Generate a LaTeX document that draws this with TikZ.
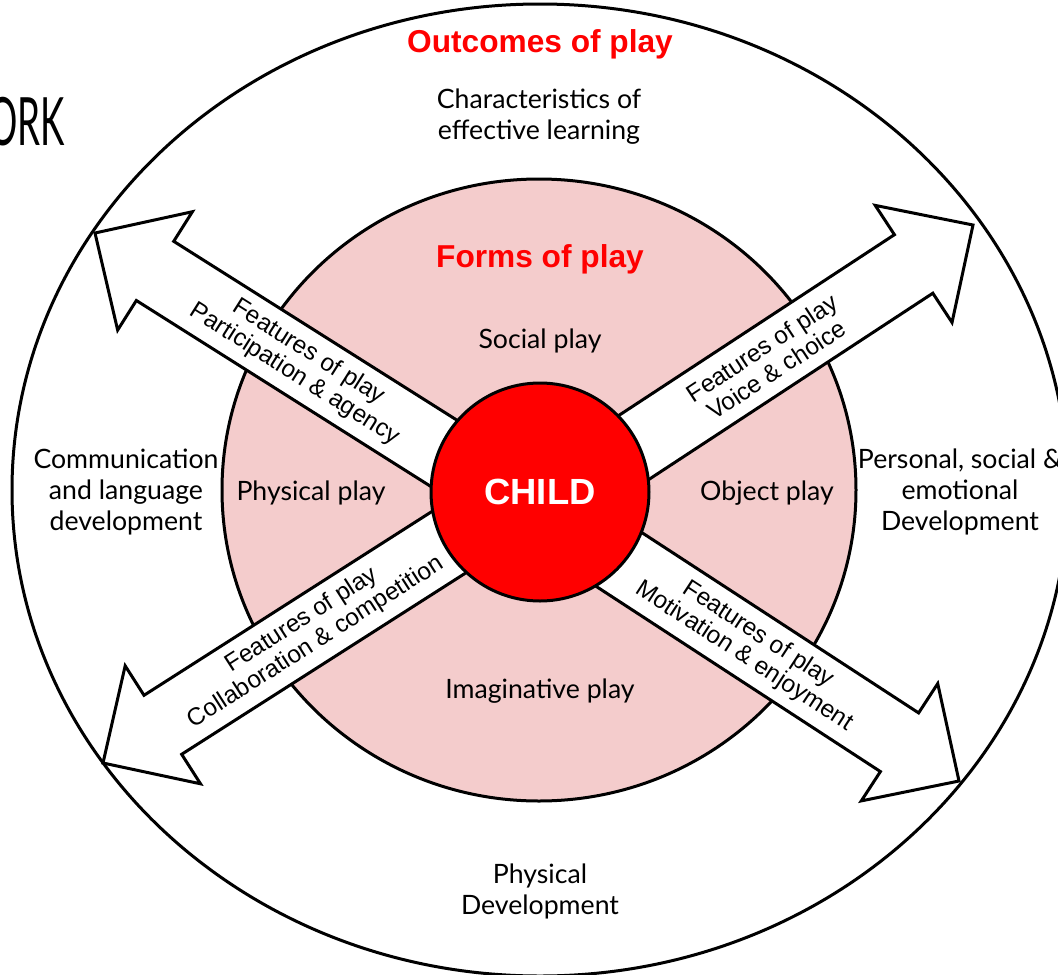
\documentclass[tikz,border=0pt]{standalone}
\usepackage{fontspec}
\setmainfont{Lato}
\newfontfamily\arialf{Liberation Sans}
\newfontfamily\orkfont[FakeStretch=0.55]{Lato}
\usetikzlibrary{calc,shapes.geometric}
\definecolor{formpink}{HTML}{F4CCCC}
\definecolor{hotred}{HTML}{FF0000}
\newcommand\mylines[1]{\begin{tabular}[t]{@{}c@{}}#1\end{tabular}}
\newcommand\blockarrow[3]{%
  \coordinate (#1-h) at ($(#3)!53.25pt!(#2)$);
  \draw[arrowbox] ($(#2)!26.25pt!90:(#3)$) -- ($(#1-h)!26.25pt!-90:(#2)$)
    -- ($(#1-h)!52.5pt!-90:(#2)$) -- (#3) -- ($(#1-h)!52.5pt!90:(#2)$)
    -- ($(#1-h)!26.25pt!90:(#2)$) -- ($(#2)!26.25pt!-90:(#3)$) -- cycle;}
\tikzset{
  ring/.style={draw=black, line width=2.25pt},
  arrowbox/.style={draw=black, fill=white, line width=2.25pt, line join=miter},
  lato/.style={font=\fontsize{20}{23.25}\selectfont, inner sep=0pt, anchor=base},
  redhead/.style={font=\arialf\bfseries\fontsize{23.75}{28}\selectfont, text=hotred, inner sep=0pt, anchor=base},
  featlabel/.style={font=\arialf\fontsize{18.3}{19.6}\selectfont, align=center, inner sep=0pt, anchor=center}
}
\begin{document}
\begin{tikzpicture}[x=0.75pt,y=-0.75pt]
\useasboundingbox (0,0) rectangle (1058,975);
% outer ring: outcomes
\node[ring, ellipse, fill=white, minimum width=792pt, minimum height=729pt, inner sep=0pt] (outer) at (540,490) {};
% forms of play
\node[ring, ellipse, fill=formpink, minimum width=475.5pt, minimum height=466.5pt, inner sep=0pt] (forms) at (539,490) {};
% arrows
\coordinate (ne-b) at (540,509); \coordinate (ne-t) at (973,225);
\coordinate (nw-b) at (540,514); \coordinate (nw-t) at (95,233);
\coordinate (sw-b) at (540,484); \coordinate (sw-t) at (103,763);
\coordinate (se-b) at (540,508); \coordinate (se-t) at (959,781);
\blockarrow{ne}{ne-b}{ne-t}
\blockarrow{nw}{nw-b}{nw-t}
\blockarrow{sw}{sw-b}{sw-t}
\blockarrow{se}{se-b}{se-t}
% child
\node[ring, circle, fill=hotred, minimum size=163.5pt, inner sep=0pt, text=white,
  font=\arialf\bfseries\fontsize{27.3}{30}\selectfont] (child) at (540,492) {CHILD};
% arrow labels
\node[featlabel, rotate=33.3] (lab-ne) at ($(ne-b)!205.5pt!(ne-t)$) {Features of play\\Voice \& choice};
\node[featlabel, rotate=-32.3] (lab-nw) at ($(nw-b)!211.5pt!(nw-t)$) {Features of play\\Participation \& agency};
\node[featlabel, rotate=32.6] (lab-sw) at ($(sw-b)!205.5pt!(sw-t)$) {Features of play\\Collaboration \& competition};
\node[featlabel, rotate=-33.1] (lab-se) at ($(se-b)!189pt!(se-t)$) {Features of play\\Motivation \& enjoyment};
% headings
\node[redhead] (outcomes) at (540,52) {Outcomes of play};
\node[redhead] (formsttl) at (540,267) {Forms of play};
% outcome texts
\node[lato] (cel) at (539,108) {\mylines{Characteristics of\\effective learning}};
\node[lato] (cld) at (126,468) {\mylines{Communication\\and language\\development}};
\node[lato] (pse) at (960,468) {\mylines{Personal, social \&\\emotional\\Development}};
\node[lato] (pd) at (540,883) {\mylines{Physical\\Development}};
% forms texts
\node[lato] (social) at (540,348) {Social play};
\node[lato] (physical) at (311,500) {Physical play};
\node[lato] (object) at (767,500) {Object play};
\node[lato] (imag) at (540,698) {Imaginative play};
% cut-off title fragment
\node[anchor=base east, inner sep=0pt, font=\orkfont\fontsize{50}{50}\selectfont] (ork) at (65,145) {ORK};
\end{tikzpicture}
\end{document}
